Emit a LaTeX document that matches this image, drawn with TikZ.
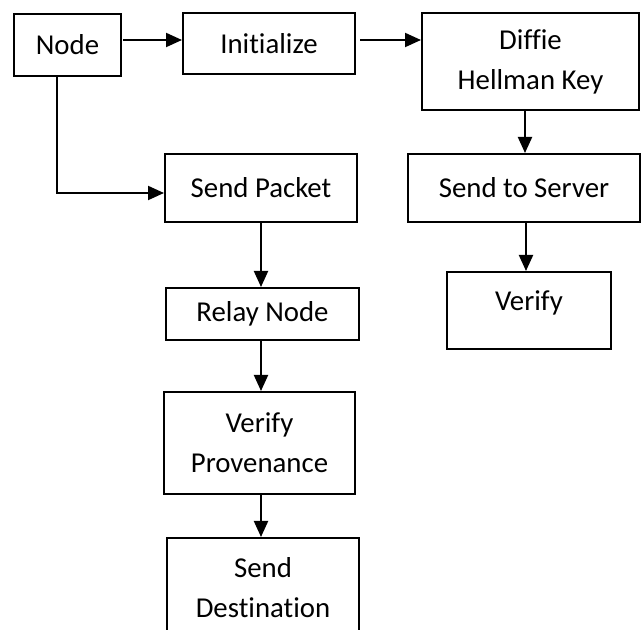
\documentclass[tikz,border=0pt]{standalone}
\usepackage{fontspec}
\setmainfont{Carlito}[Ligatures=CommonOff]
\usetikzlibrary{arrows.meta}

\begin{document}
\begin{tikzpicture}[x=0.5pt,y=-0.5pt,
    box/.style={draw,line width=1pt,inner sep=0pt,align=center,font=\fontsize{14.4}{20}\selectfont},
    arr/.style={line width=1pt,-{Triangle[length=8pt,width=7pt]}}]
    \clip (0,0) rectangle (643,630);
    \fill[white] (0,0) rectangle (643,630);
    \node[box,minimum width=53.5pt,minimum height=31pt] (node) at (67.5,45) {Node};
    \node[box,minimum width=86pt,minimum height=30.5pt] (init) at (269,43.5) {Initialize};
    \node[box,minimum width=108.5pt,minimum height=48.5pt] (dh) at (530.5,61.5) {Diffie\\Hellman Key};
    \node[box,minimum width=116pt,minimum height=34pt] (server) at (524,188) {Send to Server};
    \node[box,minimum width=82pt,minimum height=38.5pt,text depth=9.5pt] (verify) at (529,310.5) {Verify};
    \node[box,minimum width=96pt,minimum height=34pt] (packet) at (261,188) {Send Packet};
    \node[box,minimum width=96.5pt,minimum height=26pt] (relay) at (262.5,314) {Relay Node};
    \node[box,minimum width=95.5pt,minimum height=51pt] (prov) at (259.5,443) {Verify\\Provenance};
    \node[box,minimum width=96pt,minimum height=50pt] (dest) at (263,588) {Send\\Destination};
    \draw[arr] ([shift={(0.5pt,2.5pt)}]node.east) -- ([yshift=1.75pt]init.west);
    \draw[arr] ([shift={(2pt,1.75pt)}]init.east) -- ([yshift=10.75pt]dh.west);
    \draw[arr] ([xshift=-5.25pt]node.south) |- ([yshift=-2.5pt]packet.west);
    \draw[arr] ([xshift=-2.75pt]dh.south) -- ([xshift=0.5pt]server.north);
    \draw[arr] ([xshift=1pt]server.south) -- ([xshift=-1.5pt]verify.north);
    \draw[arr] (packet.south) -- ([xshift=-0.75pt]relay.north);
    \draw[arr] ([xshift=-0.75pt]relay.south) -- ([xshift=0.75pt]prov.north);
    \draw[arr] ([xshift=0.75pt]prov.south) -- ([xshift=-1pt]dest.north);
\end{tikzpicture}
\end{document}
